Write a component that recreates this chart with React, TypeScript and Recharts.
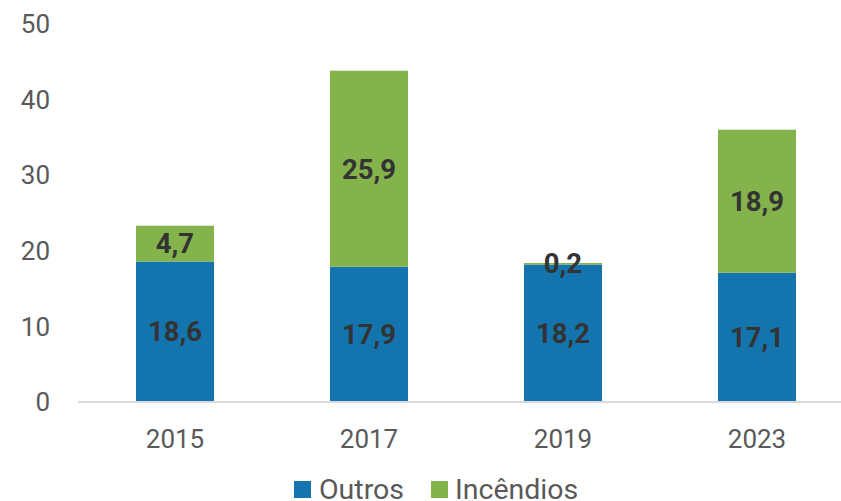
import React from "react";
import { BarChart, Bar, XAxis, YAxis, Legend, LabelList } from "recharts";

const years = ["2015", "2017", "2019", "2023"];
const outros = [18.6, 17.9, 18.2, 17.1];
const incendios = [4.7, 25.9, 0.2, 18.9];
const yTicks = [0, 10, 20, 30, 40, 50];

const data = years.map((y, i) => ({ year: y, outros: outros[i], incendios: incendios[i] }));

const BLUE = "#1475AE";
const GREEN = "#84B24B";
const FONT = "Roboto, 'Noto Sans', sans-serif";

const fmt = (v: any) => String(v).replace(".", ",");

const LegendContent = () => (
  <div style={{ display: "flex", alignItems: "center", height: 30, fontFamily: FONT, fontSize: 28.5, color: "#595959" }}>
    <span style={{ width: 17, height: 17, background: BLUE, display: "inline-block", marginRight: 8 }} />
    <span style={{ marginRight: 27 }}>Outros</span>
    <span style={{ width: 17, height: 17, background: GREEN, display: "inline-block", marginRight: 7 }} />
    <span>Incêndios</span>
  </div>
);

const labelStyle = { fill: "#333333", fontSize: 27.5, fontWeight: 700, fontFamily: FONT };

export default function App() {
  return (
    <div style={{ position: "absolute", left: 0, top: 0, width: 841, height: 501, overflow: "hidden", background: "#fff" }}>
      <BarChart width={870} height={510} data={data} margin={{ top: 24, right: 16, left: 0, bottom: 0 }}>
        <YAxis
          domain={[0, 50]}
          ticks={yTicks}
          width={78}
          axisLine={false}
          tickLine={false}
          tickSize={0}
          tickMargin={28}
          tick={{ fill: "#595959", fontSize: 26, fontFamily: FONT }}
        />
        <XAxis
          dataKey="year"
          height={78}
          axisLine={{ stroke: "#D9D9D9", strokeWidth: 2 }}
          tickLine={false}
          tickSize={0}
          tickMargin={28}
          tick={{ fill: "#595959", fontSize: 26, fontFamily: FONT }}
        />
        <Legend content={<LegendContent />} wrapperStyle={{ top: 474, left: 294, width: "auto" }} />
        <Bar dataKey="outros" stackId="a" fill={BLUE} barSize={78} isAnimationActive={false}>
          <LabelList dataKey="outros" position="center" formatter={fmt} style={labelStyle} />
        </Bar>
        <Bar dataKey="incendios" stackId="a" fill={GREEN} barSize={78} isAnimationActive={false}>
          <LabelList dataKey="incendios" position="center" formatter={fmt} style={labelStyle} />
        </Bar>
      </BarChart>
    </div>
  );
}
